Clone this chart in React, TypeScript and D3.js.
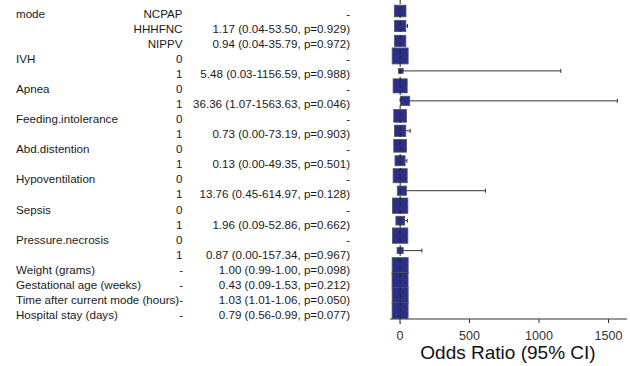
import React from "react";
import * as d3 from "d3";

const width = 630;
const height = 366;

const variables = ["mode", "", "", "IVH", "", "Apnea", "", "Feeding.intolerance", "", "Abd.distention", "", "Hypoventilation", "", "Sepsis", "", "Pressure.necrosis", "", "Weight (grams)", "Gestational age (weeks)", "Time after current mode (hours)", "Hospital stay (days)"];
const levels = ["NCPAP", "HHHFNC", "NIPPV", "0", "1", "0", "1", "0", "1", "0", "1", "0", "1", "0", "1", "0", "1", "-", "-", "-", "-"];
const estimates = [1, 1.17, 0.94, 1, 5.48, 1, 36.36, 1, 0.73, 1, 0.13, 1, 13.76, 1, 1.96, 1, 0.87, 1.0, 0.43, 1.03, 0.79];
const lower = [null, 0.04, 0.04, null, 0.03, null, 1.07, null, 0.0, null, 0.0, null, 0.45, null, 0.09, null, 0.0, 0.99, 0.09, 1.01, 0.56];
const upper = [null, 53.5, 35.79, null, 1156.59, null, 1563.63, null, 73.19, null, 49.35, null, 614.97, null, 52.86, null, 157.34, 1.0, 1.53, 1.06, 0.99];
const pvalues = [null, 0.929, 0.972, null, 0.988, null, 0.046, null, 0.903, null, 0.501, null, 0.128, null, 0.662, null, 0.967, 0.098, 0.212, 0.05, 0.077];
// relative box weights
const weights = [0.73, 0.71, 0.71, 1.0, 0.3, 0.88, 0.58, 0.8, 0.71, 0.8, 0.63, 0.88, 0.58, 0.96, 0.55, 0.96, 0.38, 1, 1, 1, 1];
const xTicks = [0, 500, 1000, 1500];

const fmt = d3.format(".2f");
const fmtP = d3.format(".3f");

const App = () => {
  const rows = d3.range(variables.length);
  // text rows sit a touch lower than the plotted rows
  const yText = d3.scalePoint<number>().domain(rows).range([13.5, 315]);
  const y = d3.scalePoint<number>().domain(rows).range([11, 310.5]);
  const x = d3.scaleLinear().domain([-72, 1633]).range([390, 627]);
  const boxSize = d3.scaleLinear().domain([0, 1]).range([0, 16]);
  const axisY = 319;

  const label = (i: number) =>
    lower[i] == null
      ? "-"
      : `${fmt(estimates[i])} (${fmt(lower[i] as number)}-${fmt(upper[i] as number)}, p=${fmtP(pvalues[i] as number)})`;

  return (
    <svg width={width} height={height} style={{ position: "absolute", left: 0, top: 0, background: "#fff" }}
      fontFamily="Liberation Sans, Arial, sans-serif">
      <g fontSize={11.6} fill="#1a1a1a">
        {rows.map((i) => (
          <g key={i} transform={`translate(0,${yText(i)})`}>
            <text x={16} dy="0.35em">{variables[i]}</text>
            <text x={i >= 17 ? 183 : 182.5} textAnchor="end" dy="0.35em">{levels[i]}</text>
            <text x={350} textAnchor="end" dy="0.35em">{label(i)}</text>
          </g>
        ))}
      </g>

      {/* CI lines */}
      {rows.filter((i) => lower[i] != null).map((i) => (
        <g key={"ci" + i} stroke="#333" strokeWidth={1}>
          <line x1={x(lower[i] as number)} x2={x(upper[i] as number)} y1={y(i)} y2={y(i)} />
          <line x1={x(upper[i] as number)} x2={x(upper[i] as number)} y1={(y(i) as number) - 2} y2={(y(i) as number) + 2} />
        </g>
      ))}

      {/* boxes */}
      {rows.map((i) => {
        const s = boxSize(weights[i]);
        return (
          <rect key={"b" + i} x={x(estimates[i]) - s / 2} y={(y(i) as number) - s / 2} width={s} height={s}
            fill="#2b2f8c" stroke="#555" strokeWidth={0.8} />
        );
      })}

      {/* reference line */}
      <line x1={x(1)} x2={x(1)} y1={0} y2={axisY + 5} stroke="#222" strokeWidth={1} strokeDasharray="4,3" />

      {/* axis */}
      <line x1={390} x2={627} y1={axisY} y2={axisY} stroke="#333" />
      {xTicks.map((t) => (
        <g key={t} transform={`translate(${x(t)},${axisY})`}>
          <line y2={4} stroke="#333" />
          <text y={21} textAnchor="middle" fontSize={12.5} fill="#333">{t}</text>
        </g>
      ))}
      <text x={508} y={359} textAnchor="middle" fontSize={19} fill="#111">Odds Ratio (95% CI)</text>
    </svg>
  );
};

export default App;
